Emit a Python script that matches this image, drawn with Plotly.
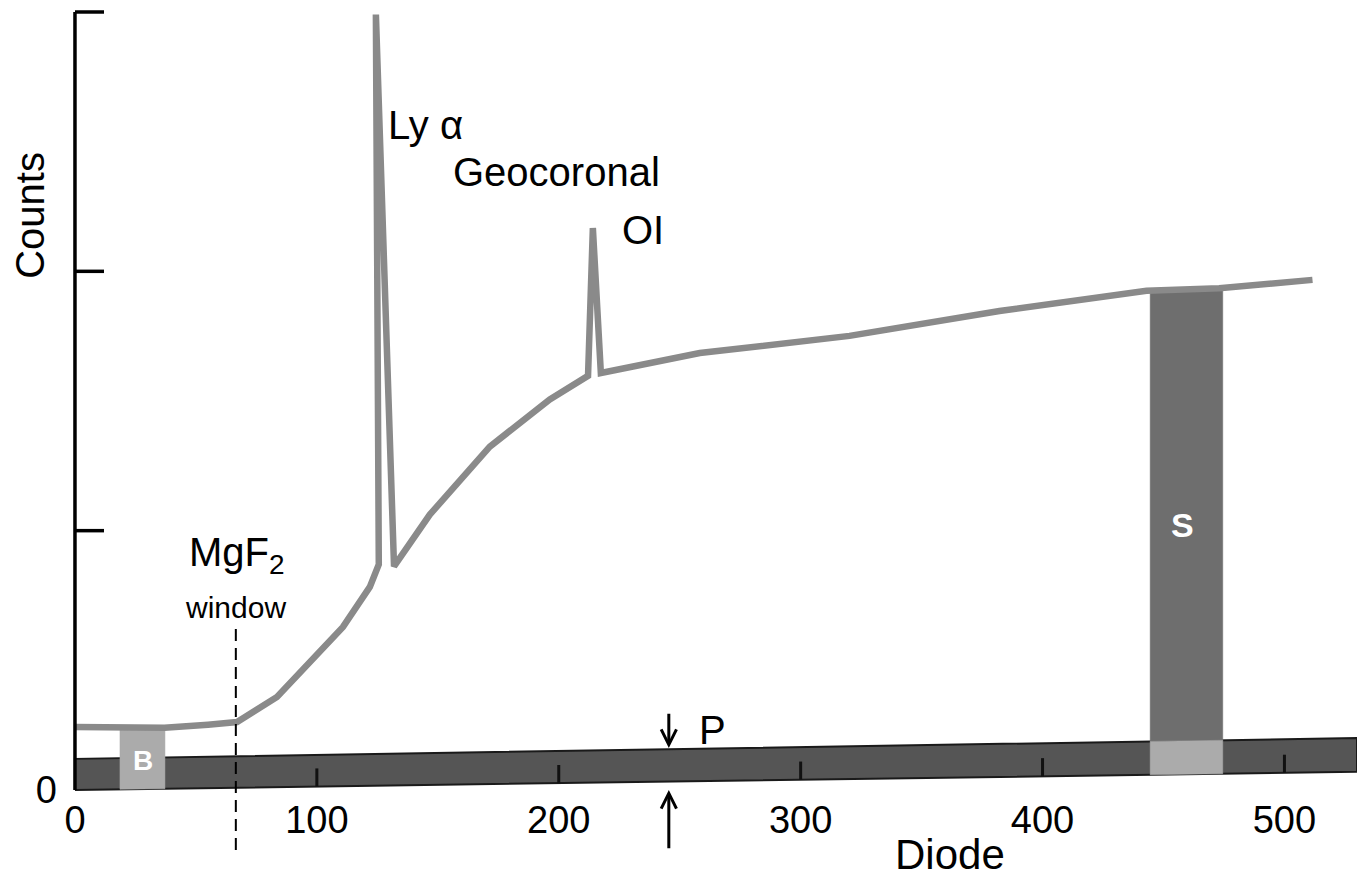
import numpy as np
import plotly.graph_objects as go

# ---------------- data ----------------
x_ticks = [0, 100, 200, 300, 400, 500]
x_tick_labels = ["0", "100", "200", "300", "400", "500"]
y_ticks = [0, 1, 2, 3]
y_label_ticks = [0]
y_tick_labels = ["0"]

# spectrum (counts vs diode), includes the Ly-alpha and OI geocoronal spikes
curve_x = [0, 37, 55, 67, 83.5, 97.1, 110.8, 121.9, 125.6, 124.4, 131.9, 146.7,
           171.5, 196.3, 212.1, 214.1, 217.4, 258.3, 320.2, 382.2, 415.3, 443,
           473, 511.6]
curve_y = [0.243, 0.240, 0.252, 0.262, 0.359, 0.490, 0.629, 0.783, 0.870, 2.99,
           0.862, 1.062, 1.324, 1.506, 1.597, 2.167, 1.608, 1.685, 1.751, 1.847,
           1.89, 1.925, 1.935, 1.967]

# pedestal band (P)
band_x = [0, 530]
band_bottom = [0.0, 0.07]
band_top = [0.12, 0.20]

# background (B) and sky (S) diode windows
b_window = [18.6, 37.2]
s_window = [444.5, 474.5]

mgf2_x = 66.5
mgf2_span = [-0.231, 0.625]
p_x = 245.5
p_down = [0.30, 0.162]
p_up = [-0.23, 0.0]

FONT = "Liberation Sans"
CURVE_COL = "#8a8a8a"
BAND_COL = "#555555"
S_COL = "#6e6e6e"
LIGHT_COL = "#ababab"

# ---------------- helpers ----------------
def bb(x):
    return float(np.interp(x, band_x, band_bottom))

def bt(x):
    return float(np.interp(x, band_x, band_top))

cx = np.array(curve_x)
cy = np.array(curve_y)
head_x, head_y = cx[:8], cy[:8]
tail_x, tail_y = cx[16:], cy[16:]

def curve_at(x):
    if x < 120:
        return float(np.interp(x, head_x, head_y))
    return float(np.interp(x, tail_x, tail_y))

fig = go.Figure()

# band
fig.add_trace(go.Scatter(
    x=[band_x[0], band_x[1], band_x[1], band_x[0], band_x[0]],
    y=[band_bottom[0], band_bottom[1], band_top[1], band_top[0], band_bottom[0]],
    fill="toself", fillcolor=BAND_COL, mode="lines",
    line=dict(color="#1a1a1a", width=2), hoverinfo="skip"))

# B window
b0, b1 = b_window
fig.add_trace(go.Scatter(
    x=[b0, b1, b1, b0, b0],
    y=[bb(b0), bb(b1), curve_at(b1), curve_at(b0), bb(b0)],
    fill="toself", fillcolor=LIGHT_COL, mode="lines",
    line=dict(color=LIGHT_COL, width=0.5), hoverinfo="skip"))

# S window: upper (dark) part and in-band (light) part
s0, s1 = s_window
fig.add_trace(go.Scatter(
    x=[s0, s1, s1, s0, s0],
    y=[bt(s0), bt(s1), curve_at(s1), curve_at(s0), bt(s0)],
    fill="toself", fillcolor=S_COL, mode="lines",
    line=dict(color=S_COL, width=0.5), hoverinfo="skip"))
fig.add_trace(go.Scatter(
    x=[s0, s1, s1, s0, s0],
    y=[bb(s0), bb(s1), bt(s1), bt(s0), bb(s0)],
    fill="toself", fillcolor=LIGHT_COL, mode="lines",
    line=dict(color=LIGHT_COL, width=0.5), hoverinfo="skip"))

# tick marks inside the band
tx, ty = [], []
for t in x_ticks[1:]:
    tx += [t, t, None]
    ty += [bb(t), bb(t) + 0.07, None]
fig.add_trace(go.Scatter(x=tx, y=ty, mode="lines",
                         line=dict(color="#111111", width=3), hoverinfo="skip"))

# spectrum curve
fig.add_trace(go.Scatter(x=curve_x, y=curve_y, mode="lines",
                         line=dict(color=CURVE_COL, width=6.5),
                         hoverinfo="skip"))

# MgF2 window dashed line
fig.add_trace(go.Scatter(x=[mgf2_x, mgf2_x], y=mgf2_span, mode="lines",
                         line=dict(color="black", width=2, dash="12px,7px"),
                         hoverinfo="skip"))

# y axis line and ticks
yx, yy = [0, 0, None], [0, y_ticks[-1], None]
for t in y_ticks[1:]:
    yx += [0, 12, None]
    yy += [t, t, None]
fig.add_trace(go.Scatter(x=yx, y=yy, mode="lines",
                         line=dict(color="black", width=3.5), hoverinfo="skip"))

XMIN, XMAX = -26.86, 530
YMIN, YMAX = -0.3278, 3.0154
y0_frac = (0 - YMIN) / (YMAX - YMIN)
x0_frac = (0 - XMIN) / (XMAX - XMIN)

ann = []
def label(text, x, y, size=40, color="black", bold=False, angle=0):
    ann.append(dict(x=x, y=y, xref="x", yref="y", text=("<b>%s</b>" % text) if bold else text,
                    showarrow=False, textangle=angle,
                    font=dict(family=FONT, size=size, color=color),
                    xanchor="center", yanchor="middle"))

label("Counts", -18.6, 2.218, size=40, angle=-90)
label("Diode", 361.8, -0.25, size=42)
label("Ly α", 144.8, 2.563, size=40)
label("Geocoronal", 199, 2.382, size=40)
label("OI", 234.9, 2.158, size=40)
label("MgF<sub>2</sub>", 67.1, 0.905, size=40)
label("window", 66.3, 0.705, size=30)
label("P", 263.4, 0.230, size=40)
label("B", 28.3, 0.115, size=28, color="white", bold=True)
label("S", 457.7, 1.021, size=34, color="white", bold=True)

# P arrows
for tail, tip in (p_down, p_up):
    ann.append(dict(x=p_x, y=tip, ax=p_x, ay=tail, xref="x", yref="y",
                    axref="x", ayref="y", text="", showarrow=True,
                    arrowhead=5, arrowsize=1.0, arrowwidth=3,
                    arrowcolor="black"))

fig.update_layout(
    width=1367, height=881,
    margin=dict(l=2, r=18, t=0, b=14, autoexpand=False),
    paper_bgcolor="white", plot_bgcolor="white",
    showlegend=False,
    annotations=ann,
    xaxis=dict(range=[XMIN, XMAX], showgrid=False, zeroline=False,
               showline=False, tickvals=x_ticks, ticktext=x_tick_labels,
               ticks="", anchor="free", position=y0_frac, automargin=False,
               ticklabelstandoff=4,
               tickfont=dict(family=FONT, size=38, color="black")),
    yaxis=dict(range=[YMIN, YMAX], showgrid=False, zeroline=False,
               showline=False, tickvals=y_label_ticks, ticktext=y_tick_labels,
               ticks="", anchor="free", position=x0_frac, automargin=False,
               ticklabelstandoff=18,
               tickfont=dict(family=FONT, size=38, color="black")),
)

fig.write_html("out.html")
